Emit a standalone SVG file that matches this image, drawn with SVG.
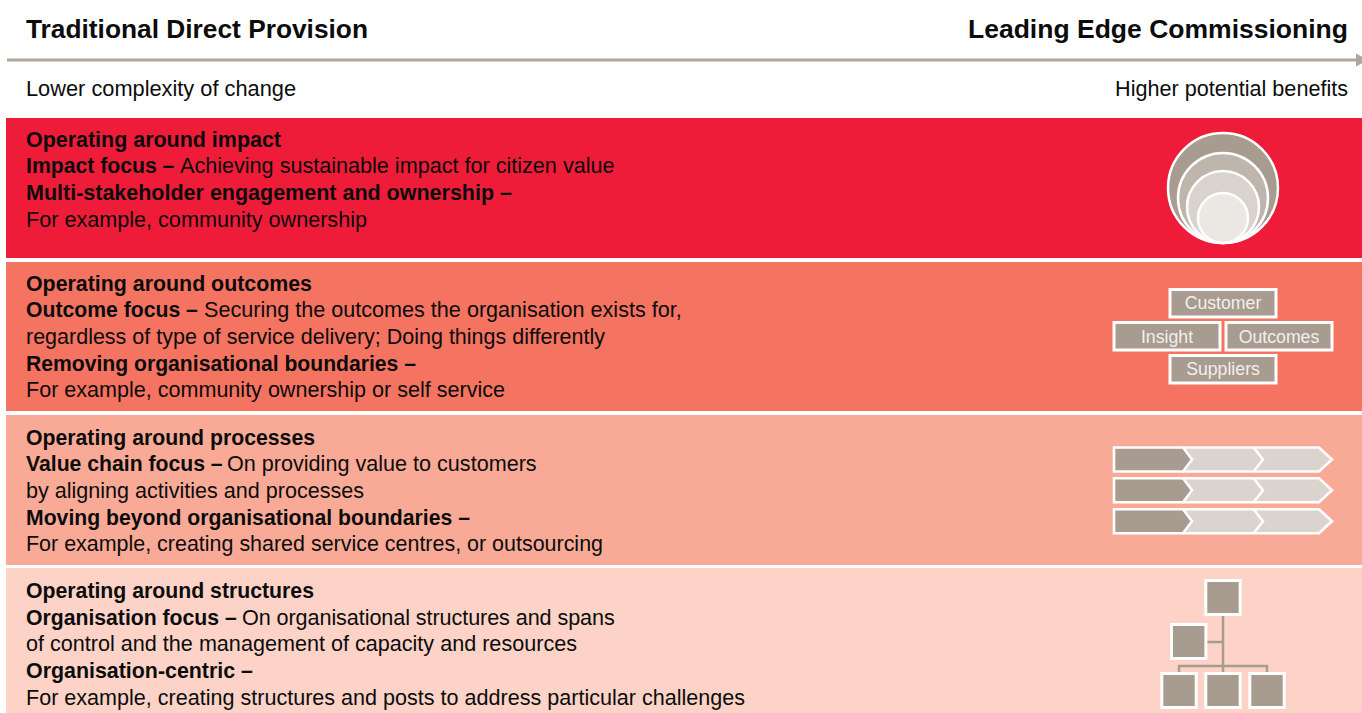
<svg xmlns="http://www.w3.org/2000/svg" width="1362" height="713" viewBox="0 0 1362 713">
<style>
text{font-family:"Liberation Sans",Arial,sans-serif;fill:#0c0c0c}
.h{font-size:26.3px;font-weight:bold}
.t{font-size:21.6px}
.b{font-weight:bold;font-size:21.2px}
.lbl{font-size:17.7px;fill:#f3efec;text-anchor:middle}
.box{fill:#a89c91;stroke:#fff;stroke-width:3}
.c{stroke:#fff;stroke-width:2.5}
.ch{stroke:#fff;stroke-width:2.6;stroke-linejoin:miter}
.d{fill:#a89c91}
.l{fill:#dbd3cd}
.link{stroke:#a89c91;stroke-width:2.5;fill:none}
</style>
<defs>
<g id="chev">
<path class="ch l" d="M1184 0H1319L1332 12L1319 24H1184Z"/>
<path class="ch d" d="M1114 0H1183L1192 12L1183 24H1114Z"/>
<path d="M1254 0.5L1263 12L1254 23.5" fill="none" stroke="#fff" stroke-width="2.6"/>
</g>
</defs>
<g id="header">
<text class="h" x="26" y="38" textLength="342" lengthAdjust="spacingAndGlyphs">Traditional Direct Provision</text>
<text class="h" x="968" y="38" textLength="380" lengthAdjust="spacingAndGlyphs">Leading Edge Commissioning</text>
<text class="t" x="26" y="96" textLength="270" lengthAdjust="spacingAndGlyphs">Lower complexity of change</text>
<text class="t" x="1348" y="96" text-anchor="end">Higher potential benefits</text>
</g>
<g id="band-impact">
<rect x="6" y="118" width="1356" height="140" fill="#ee1c39"/>
<text class="b" x="26" y="147" textLength="255" lengthAdjust="spacingAndGlyphs">Operating around impact</text>
<text class="t" x="26" y="173"><tspan class="b">Impact focus –</tspan><tspan x="180">Achieving sustainable impact for citizen value</tspan></text>
<text class="b" x="26" y="200" textLength="486" lengthAdjust="spacingAndGlyphs">Multi-stakeholder engagement and ownership –</text>
<text class="t" x="26" y="227" textLength="341" lengthAdjust="spacingAndGlyphs">For example, community ownership</text>
<circle class="c" cx="1223" cy="188" r="55" fill="#a89c91"/>
<circle class="c" cx="1223" cy="198" r="45" fill="#beb5ac"/>
<circle class="c" cx="1223" cy="207" r="36" fill="#d9d3ce"/>
<circle class="c" cx="1223" cy="218" r="25" fill="#ebe7e3"/>
</g>
<g id="band-outcomes">
<rect x="6" y="262" width="1356" height="149" fill="#f47361"/>
<text class="b" x="26" y="291" textLength="286" lengthAdjust="spacingAndGlyphs">Operating around outcomes</text>
<text class="t" x="26" y="317"><tspan class="b">Outcome focus –</tspan><tspan x="204">Securing the outcomes the organisation exists for,</tspan></text>
<text class="t" x="26" y="344" textLength="579" lengthAdjust="spacingAndGlyphs">regardless of type of service delivery; Doing things differently</text>
<text class="b" x="26" y="371" textLength="390" lengthAdjust="spacingAndGlyphs">Removing organisational boundaries –</text>
<text class="t" x="26" y="397" textLength="479" lengthAdjust="spacingAndGlyphs">For example, community ownership or self service</text>
<rect class="box" x="1170" y="289.500" width="106" height="27.500"/>
<text class="lbl" x="1223" y="309">Customer</text>
<rect class="box" x="1114" y="322.500" width="106" height="27.500"/>
<text class="lbl" x="1167" y="343">Insight</text>
<rect class="box" x="1226" y="322.500" width="106" height="27.500"/>
<text class="lbl" x="1279" y="343">Outcomes</text>
<rect class="box" x="1170" y="355.500" width="106" height="27.500"/>
<text class="lbl" x="1223" y="375">Suppliers</text>
</g>
<g id="band-processes">
<rect x="6" y="415" width="1356" height="150" fill="#f9aa97"/>
<text class="b" x="26" y="445" textLength="289" lengthAdjust="spacingAndGlyphs">Operating around processes</text>
<text class="t" x="26" y="471"><tspan class="b">Value chain focus –</tspan><tspan x="227">On providing value to customers</tspan></text>
<text class="t" x="26" y="498" textLength="338" lengthAdjust="spacingAndGlyphs">by aligning activities and processes</text>
<text class="b" x="26" y="525" textLength="444" lengthAdjust="spacingAndGlyphs">Moving beyond organisational boundaries –</text>
<text class="t" x="26" y="551" textLength="577" lengthAdjust="spacingAndGlyphs">For example, creating shared service centres, or outsourcing</text>
<use href="#chev" y="447.5"/>
<use href="#chev" y="478.3"/>
<use href="#chev" y="509.3"/>
</g>
<g id="band-structures">
<rect x="6" y="568" width="1356" height="145" fill="#fdd3c7"/>
<text class="b" x="26" y="598" textLength="288" lengthAdjust="spacingAndGlyphs">Operating around structures</text>
<text class="t" x="26" y="625"><tspan class="b">Organisation focus –</tspan><tspan x="242" letter-spacing="-0.08">On organisational structures and spans</tspan></text>
<text class="t" x="26" y="651" textLength="551" lengthAdjust="spacingAndGlyphs">of control and the management of capacity and resources</text>
<text class="b" x="26" y="678" textLength="227" lengthAdjust="spacingAndGlyphs">Organisation-centric –</text>
<text class="t" x="26" y="705" textLength="719" lengthAdjust="spacingAndGlyphs">For example, creating structures and posts to address particular challenges</text>
<rect class="box" x="1205.800" y="580.500" width="34.400" height="34"/>
<rect class="box" x="1171.500" y="624.500" width="34.400" height="34"/>
<rect class="box" x="1161.800" y="673.500" width="34.400" height="34"/>
<rect class="box" x="1205.800" y="673.500" width="34.400" height="34"/>
<rect class="box" x="1249.800" y="673.500" width="34.400" height="34"/>
</g>
<g id="connectors">
<path d="M7 60H1357" stroke="#b0a59b" stroke-width="3" fill="none"/>
<path d="M1356 53.500L1368 60L1356 66.500Z" fill="#b0a59b"/>
<path class="link" d="M1223 616V672M1207.500 642H1223M1179 672V666H1267V672"/>
</g>
</svg>
